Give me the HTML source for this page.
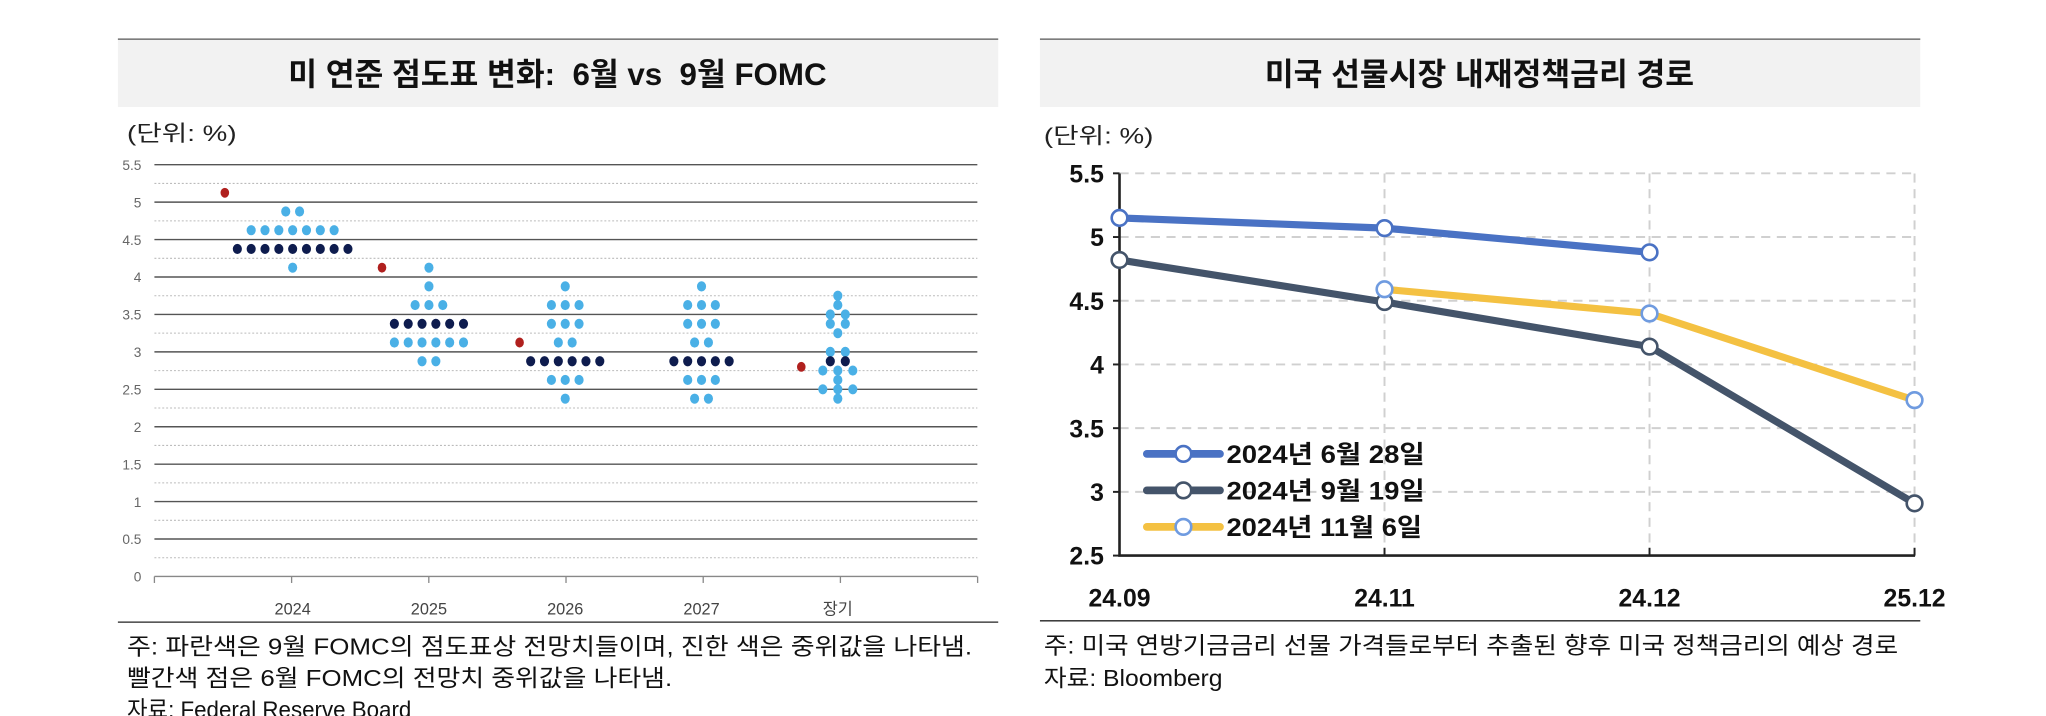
<!DOCTYPE html>
<html><head><meta charset="utf-8">
<style>
html,body{margin:0;padding:0;background:#fff;}
svg{display:block;}
text{font-family:"Liberation Sans","Noto Sans CJK KR",sans-serif;}
</style></head>
<body>
<svg id="root" width="2046" height="716" viewBox="0 0 1568 549" xmlns="http://www.w3.org/2000/svg">
  <g>
    <rect x="90" y="30" width="675" height="52" fill="#f2f2f2"/>
    <line x1="90" y1="30" x2="765" y2="30" stroke="#555" stroke-width="1"/>
    <text x="427" y="65" text-anchor="middle" font-size="24" font-weight="bold" fill="#111" xml:space="preserve">미 연준 점도표 변화:  6월 vs  9월 FOMC</text>
    <text x="97" y="108" font-size="17" fill="#222" textLength="84" lengthAdjust="spacingAndGlyphs">(단위: %)</text>
    <g id="leftGrid"></g>
    <g id="leftDots"></g>
    <line x1="90" y1="477" x2="765" y2="477" stroke="#222" stroke-width="1"/>
    <text x="97" y="502" font-size="18" fill="#111" textLength="648" lengthAdjust="spacingAndGlyphs">주: 파란색은 9월 FOMC의 점도표상 전망치들이며, 진한 색은 중위값을 나타냄.</text>
    <text x="97" y="526" font-size="18" fill="#111" textLength="418" lengthAdjust="spacingAndGlyphs">빨간색 점은 6월 FOMC의 전망치 중위값을 나타냄.</text>
    <text x="97" y="550" font-size="18" fill="#111" textLength="218" lengthAdjust="spacingAndGlyphs">자료: Federal Reserve Board</text>
  </g>
  <g>
    <rect x="797" y="30" width="675" height="52" fill="#f2f2f2"/>
    <line x1="797" y1="30" x2="1472" y2="30" stroke="#555" stroke-width="1"/>
    <text x="1134" y="65" text-anchor="middle" font-size="24" font-weight="bold" fill="#111">미국 선물시장 내재정책금리 경로</text>
    <text x="800" y="110" font-size="17" fill="#222" textLength="84" lengthAdjust="spacingAndGlyphs">(단위: %)</text>
    <g id="rightChart"></g>
    <line x1="797" y1="476" x2="1472" y2="476" stroke="#222" stroke-width="1"/>
    <text x="800" y="501" font-size="18" fill="#111" textLength="655" lengthAdjust="spacingAndGlyphs">주: 미국 연방기금금리 선물 가격들로부터 추출된 향후 미국 정책금리의 예상 경로</text>
    <text x="800" y="526" font-size="18" fill="#111" textLength="137" lengthAdjust="spacingAndGlyphs">자료: Bloomberg</text>
  </g>
</svg>
<script>
const dotCategories = ["2024","2025","2026","2027","장기"];
const dotLevels = [
  [4.875,4.625,4.375,4.125],
  [4.125,3.875,3.625,3.375,3.125,2.875],
  [3.875,3.625,3.375,3.125,2.875,2.625,2.375],
  [3.875,3.625,3.375,3.125,2.875,2.625,2.375],
  [3.75,3.625,3.5,3.375,3.25,3.0,2.875,2.75,2.625,2.5,2.375]
];
const dotCounts = [
  [2,7,9,1],
  [1,1,3,6,6,2],
  [1,3,3,2,6,3,1],
  [1,3,3,2,5,3,2],
  [1,1,2,2,1,2,2,3,1,3,1]
];
const dotMedians = [4.375,3.375,2.875,2.875,2.875];
const juneMedians = [5.125,4.125,3.125,2.8];
const leftTicks = [0,0.5,1,1.5,2,2.5,3,3.5,4,4.5,5,5.5];

const rateCategories = ["24.09","24.11","24.12","25.12"];
const rateTicks = [2.5,3,3.5,4,4.5,5,5.5];
const seriesJune = [5.15,5.07,4.88,null];
const seriesSep = [4.82,4.49,4.14,2.91];
const seriesNov = [null,4.59,4.40,3.72];
const seriesNames = ["2024년 6월 28일","2024년 9월 19일","2024년 11월 6일"];

const NS="http://www.w3.org/2000/svg";
function mk(parent,tag,attrs){const e=document.createElementNS(NS,tag);for(const k in attrs)e.setAttribute(k,attrs[k]);parent.appendChild(e);return e;}

const ly = v => 442 - v*57.4;
const lx0=118, lx1=749;
const lcx = i => 224 + i*104.5;
const lg=document.getElementById('leftGrid');
leftTicks.forEach(t=>{
  const l=mk(lg,'line',{x1:lx0,x2:lx1,y1:ly(t),y2:ly(t),stroke:t===0?'#888':'#555','stroke-width':t===0?1:1.1});
  
  
  if(t<5.5){
    const d=mk(lg,'line',{x1:lx0,x2:lx1,y1:ly(t+0.25),y2:ly(t+0.25),stroke:'#bbb','stroke-width':0.8,'stroke-dasharray':'1.5 1.5'});
    
    
  }
  const tx=mk(lg,'text',{x:108,y:ly(t)+4,'text-anchor':'end','font-size':10.5,fill:'#666'});
  tx.textContent=String(t);
  
  
});
for(let i=0;i<=6;i++){
  const x=lx0+i*105.2;
  mk(lg,'line',{x1:x,x2:x,y1:442,y2:447,stroke:'#888','stroke-width':1});
}
dotCategories.forEach((c,i)=>{
  const tx=mk(lg,'text',{x:lcx(i),y:471,'text-anchor':'middle','font-size':12.5,fill:'#444'});
  tx.textContent=c;
  
  
});
const ld=document.getElementById('leftDots');
const sp=10.6;
dotLevels.forEach((levels,i)=>{
  levels.forEach((v,j)=>{
    const n=dotCounts[i][j];
    const dark=(v===dotMedians[i]);
    for(let k=0;k<n;k++){
      const x=lcx(i)+(k-(n-1)/2)*(i===4?11.5:sp);
      const e=mk(ld,'ellipse',{cx:x,cy:ly(v),rx:3.5,ry:3.9,fill:dark?'#0e1c4e':'#4ab0e6'});
      
      
    }
  });
});
const redOff=[-52,-36,-35,-28];
juneMedians.forEach((v,i)=>{
  const idx = i<3 ? i : 4;
  const e=mk(ld,'ellipse',{cx:lcx(idx)+redOff[i],cy:ly(v),rx:3.3,ry:3.8,fill:'#b0201e'});
  
  
});

const ry = v => 426 - (v-2.5)*97.7;
const rx = i => 858 + i*203.2;
const rc=document.getElementById('rightChart');
rateTicks.forEach(t=>{
  if(t>2.5){
    const l=mk(rc,'line',{x1:858,x2:1468,y1:ry(t),y2:ry(t),stroke:'#d0d0d0','stroke-width':1.5,'stroke-dasharray':'7 5'});
    
    
  }
  mk(rc,'line',{x1:853,x2:858,y1:ry(t),y2:ry(t),stroke:'#222','stroke-width':1.5});
  const tx=mk(rc,'text',{x:846,y:ry(t)+7,'text-anchor':'end','font-size':19,'font-weight':'bold',fill:'#111'});
  tx.textContent=String(t);
  
  
});
rateCategories.forEach((c,i)=>{
  if(i>0){
    const l=mk(rc,'line',{x1:rx(i),x2:rx(i),y1:133,y2:426,stroke:'#d0d0d0','stroke-width':1.5,'stroke-dasharray':'7 5'});
    
    
    mk(rc,'line',{x1:rx(i),x2:rx(i),y1:420,y2:426,stroke:'#222','stroke-width':1.5});
  }
  const tx=mk(rc,'text',{x:rx(i),y:465,'text-anchor':'middle','font-size':19,'font-weight':'bold',fill:'#111'});
  tx.textContent=c;
  
  
});
const ax=mk(rc,'path',{d:'M858 133 V426 H1468',fill:'none',stroke:'#222','stroke-width':2});



const allSeries=[seriesJune,seriesSep,seriesNov];
const colors=['#4a72c4','#44546a','#f4c142'];
const mColors=['#4a72c4','#44546a','#6f9be0'];
const sNames=['series-jun-28','series-sep-19','series-nov-6'];
allSeries.forEach((s,si)=>{
  let d='';
  s.forEach((v,i)=>{ if(v!==null){ d+=(d?' L':'M')+rx(i)+' '+ry(v);} });
  const p=mk(rc,'path',{d:d,fill:'none',stroke:colors[si],'stroke-width':5.5,'stroke-linejoin':'round'});
  
  
});
allSeries.forEach((s,si)=>{
  s.forEach((v,i)=>{ if(v!==null){
    const c=mk(rc,'circle',{cx:rx(i),cy:ry(v),r:6,fill:'#fff',stroke:mColors[si],'stroke-width':2});
    
    
  }});
});
seriesNames.forEach((n,si)=>{
  const y=348+si*28;
  const g=mk(rc,'g',{});
  
  
  mk(g,'line',{x1:879,x2:935,y1:y,y2:y,stroke:colors[si],'stroke-width':6,'stroke-linecap':'round'});
  mk(g,'circle',{cx:907,cy:y,r:6,fill:'#fff',stroke:mColors[si],'stroke-width':2});
  const t=mk(g,'text',{x:940,y:y+7,'font-size':19,'font-weight':'bold',fill:'#111',textLength:si===2?150:152,lengthAdjust:'spacingAndGlyphs'});
  t.textContent=n;
});
</script>
</body></html>
